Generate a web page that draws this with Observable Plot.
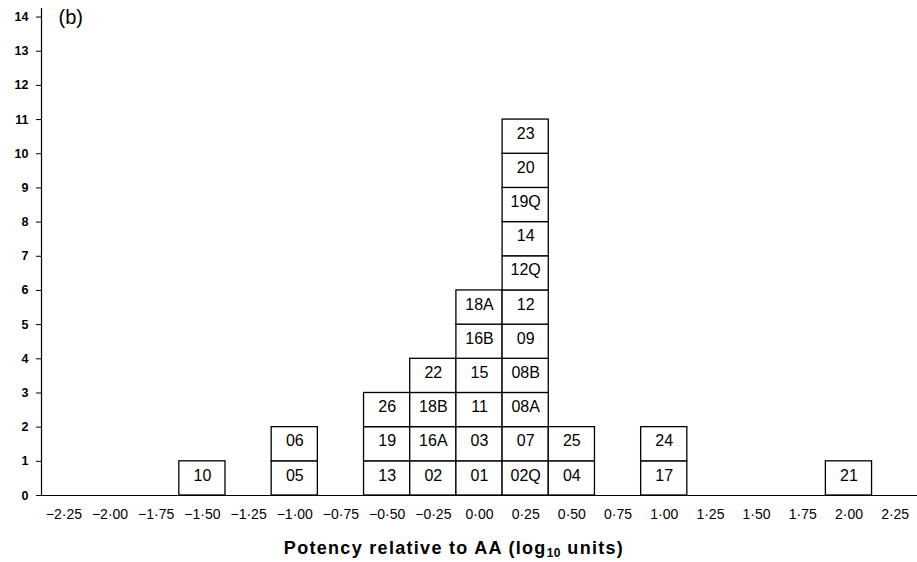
<!DOCTYPE html>
<html><head><meta charset="utf-8">
<script src="https://cdn.jsdelivr.net/npm/d3@7"></script>
<script src="https://cdn.jsdelivr.net/npm/@observablehq/plot@0.6"></script>
<style>
body{margin:0;background:#fff;font-family:"Liberation Sans",Arial,sans-serif;}
#wrap{position:relative;width:917px;height:562px;}
#xlabel{position:absolute;left:0;width:908px;top:539px;text-align:center;font-weight:bold;font-size:18px;line-height:1;letter-spacing:1.3px;color:#000;}
#xlabel sub{font-size:12px;vertical-align:-3px;line-height:0;letter-spacing:0.5px;}
</style>
</head><body>
<div id="wrap"><div id="chart"></div><div id="xlabel">Potency relative to AA (log<sub>10</sub> units)</div></div>
<script>
const binCenters = [-1.5, -1.0, -0.5, -0.25, 0.0, 0.25, 0.5, 1.0, 2.0];
const binLabels = [
  ["10"],
  ["05", "06"],
  ["13", "19", "26"],
  ["02", "16A", "18B", "22"],
  ["01", "03", "11", "15", "16B", "18A"],
  ["02Q", "07", "08A", "08B", "09", "12", "12Q", "14", "19Q", "20", "23"],
  ["04", "25"],
  ["17", "24"],
  ["21"]
];
const xTicks = [-2.25, -2.0, -1.75, -1.5, -1.25, -1.0, -0.75, -0.5, -0.25, 0, 0.25, 0.5, 0.75, 1.0, 1.25, 1.5, 1.75, 2.0, 2.25];
const yTicks = [0,1,2,3,4,5,6,7,8,9,10,11,12,13,14];
const panelLabel = "(b)";
const binWidth = 0.25;
const xDomain = [-2.371, 2.371];
const yDomain = [0, 14.25];

const rows = [];
binCenters.forEach((c, i) => binLabels[i].forEach((lab, j) => rows.push({x: c, level: j, label: lab})));
const fmt = v => d3.format(".2f")(v).replace(".", "\u00b7");

const chart = Plot.plot({
  width: 917, height: 532,
  marginLeft: 41, marginRight: 0, marginTop: 8, marginBottom: 37,
  x: {domain: xDomain},
  y: {domain: yDomain},
  style: {fontFamily: '"Liberation Sans", Arial, sans-serif', background: "white", color: "black"},
  marks: [
    Plot.rect(rows, {x1: d => d.x - binWidth / 2, x2: d => d.x + binWidth / 2, y1: "level", y2: d => d.level + 1,
      fill: "white", stroke: "black", strokeWidth: 1.3}),
    Plot.text(rows, {x: "x", y: d => d.level + 0.5, text: "label", fontSize: 16, dy: -3, fill: "black"}),
    Plot.ruleY([0], {stroke: "black", strokeWidth: 1.2}),
    Plot.ruleX([xDomain[0]], {y1: 0, y2: yDomain[1], stroke: "black", strokeWidth: 1.2}),
    Plot.axisX(xTicks, {tickSize: 0, tickPadding: 14, tickFormat: fmt, fontSize: 14, label: null}),
    Plot.axisY(yTicks, {tickSize: 5, tickPadding: 8, fontSize: 12.5, fontWeight: "bold", label: null}),
    Plot.text([panelLabel], {frameAnchor: "top-left", dx: 17, dy: 1, fontSize: 20, textAnchor: "start", lineAnchor: "top", fill: "black"})
  ]
});
document.getElementById("chart").appendChild(chart);
</script>
</body></html>
